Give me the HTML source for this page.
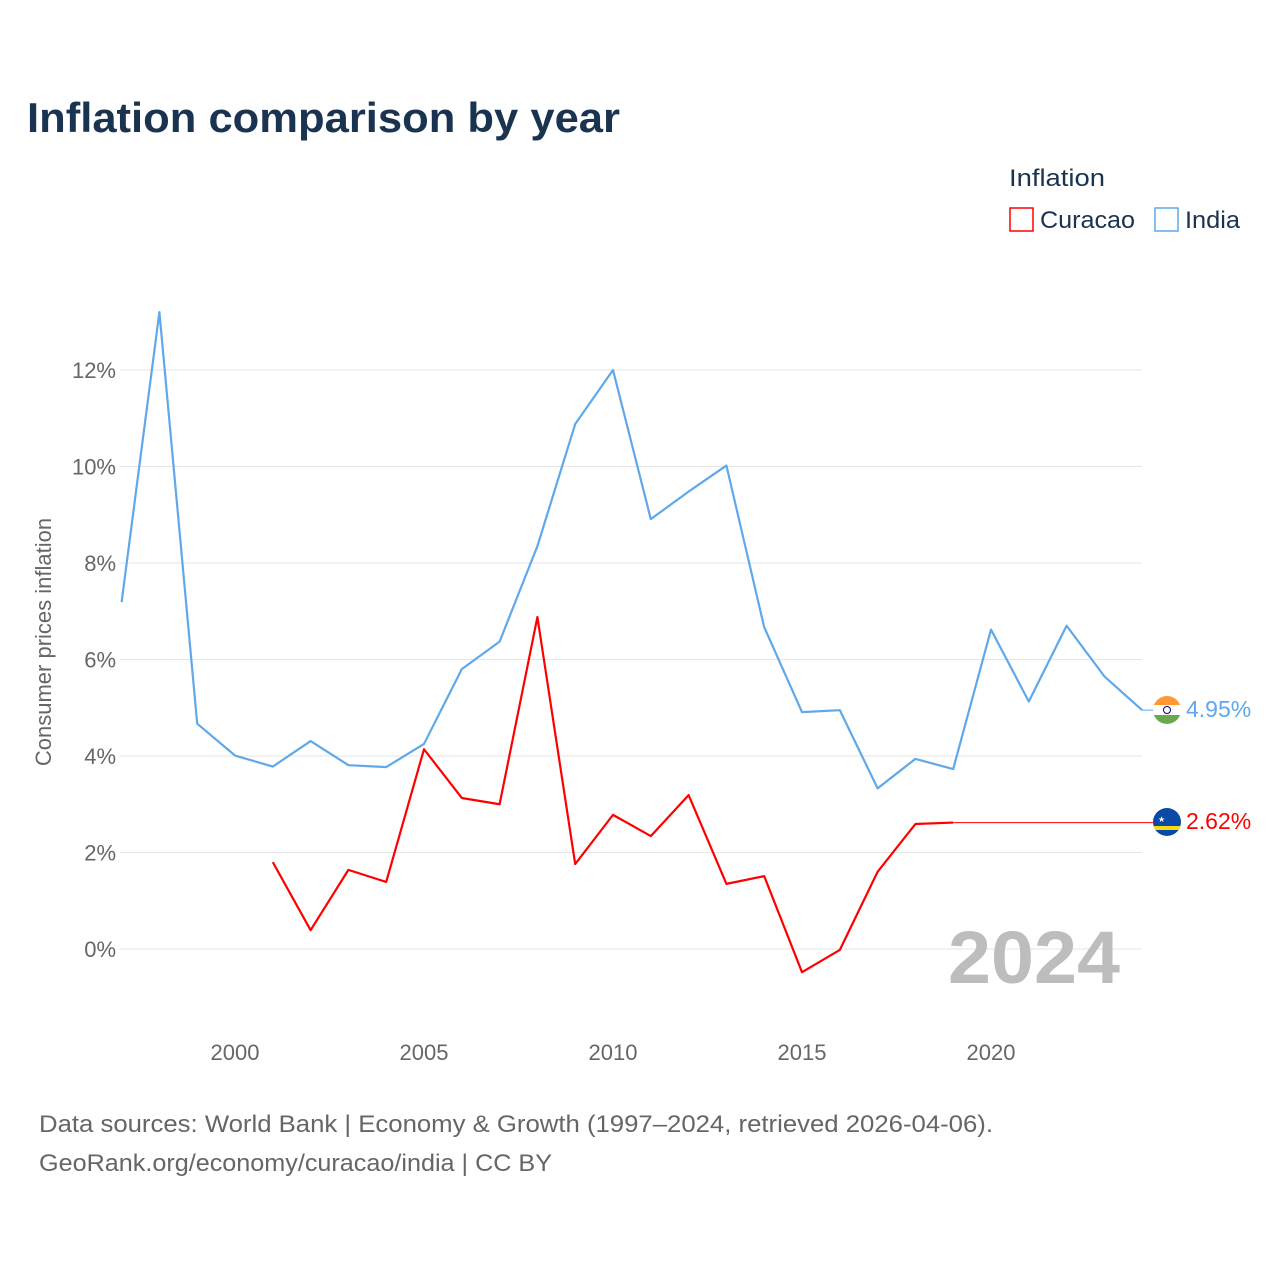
<!DOCTYPE html>
<html><head><meta charset="utf-8">
<style>
body{margin:0;background:#fff;font-family:"Liberation Sans",sans-serif;}
svg text{font-family:"Liberation Sans",sans-serif;}
</style></head>
<body>
<svg width="1280" height="1280" viewBox="0 0 1280 1280">
<text x="27" y="132" font-size="42" font-weight="bold" fill="#1a3350" textLength="593" lengthAdjust="spacingAndGlyphs">Inflation comparison by year</text>
<text x="1009" y="186" font-size="24" fill="#1a3350" textLength="96" lengthAdjust="spacingAndGlyphs">Inflation</text>
<g><rect x="1010" y="208" width="23" height="23" fill="none" stroke="#ff0000" stroke-width="1.5"/><text x="1040" y="228" font-size="24" fill="#1a3350" textLength="95" lengthAdjust="spacingAndGlyphs">Curacao</text></g>
<g><rect x="1155" y="208" width="23" height="23" fill="none" stroke="#5fa8ea" stroke-width="1.5"/><text x="1185" y="228" font-size="24" fill="#1a3350" textLength="55" lengthAdjust="spacingAndGlyphs">India</text></g>
<g id="grid"></g><g id="yticks"></g><g id="xticks"></g>
<text transform="translate(51,642) rotate(-90)" text-anchor="middle" font-size="22" fill="#666">Consumer prices inflation</text>
<text x="948" y="983" font-size="74" font-weight="bold" fill="#bdbdbd" textLength="172" lengthAdjust="spacingAndGlyphs">2024</text>
<g id="lines"></g>
<g>
<clipPath id="c1"><circle cx="1167" cy="710" r="14"/></clipPath>
<g clip-path="url(#c1)"><rect x="1150" y="694" width="34" height="11" fill="#ff9933"/><rect x="1150" y="705" width="34" height="10" fill="#fff"/><rect x="1150" y="715" width="34" height="12" fill="#6aa84f"/><circle cx="1167" cy="710" r="3.5" fill="none" stroke="#000080" stroke-width="1"/></g></g>
<text x="1186" y="717" font-size="23" fill="#5fa8ea">4.95%</text>
<g>
<clipPath id="c2"><circle cx="1167" cy="822" r="14"/></clipPath>
<g clip-path="url(#c2)"><rect x="1150" y="806" width="34" height="32" fill="#0a4aa6"/><rect x="1150" y="826" width="34" height="4" fill="#f9d90f"/><text x="1158" y="822" font-size="8" fill="#fff">★</text></g></g>
<text x="1186" y="829" font-size="23" fill="#ff0000">2.62%</text>
<text x="39" y="1132" font-size="24" fill="#666" textLength="954" lengthAdjust="spacingAndGlyphs">Data sources: World Bank | Economy &amp; Growth (1997–2024, retrieved 2026-04-06).</text>
<text x="39" y="1171" font-size="24" fill="#666" textLength="513" lengthAdjust="spacingAndGlyphs">GeoRank.org/economy/curacao/india | CC BY</text>
</svg>
<script>
const years=[1997,1998,1999,2000,2001,2002,2003,2004,2005,2006,2007,2008,2009,2010,2011,2012,2013,2014,2015,2016,2017,2018,2019,2020,2021,2022,2023,2024];
const india=[7.19,13.2,4.67,4.01,3.78,4.31,3.81,3.77,4.25,5.80,6.37,8.35,10.88,12.0,8.91,9.48,10.02,6.67,4.91,4.95,3.33,3.94,3.73,6.62,5.13,6.70,5.65,4.95];
const curacaoYears=[2001,2002,2003,2004,2005,2006,2007,2008,2009,2010,2011,2012,2013,2014,2015,2016,2017,2018,2019];
const curacao=[1.8,0.39,1.64,1.39,4.14,3.13,3.0,6.88,1.76,2.78,2.34,3.19,1.35,1.51,-0.48,-0.02,1.6,2.59,2.62];
const yTicks=[0,2,4,6,8,10,12];
const xTicks=[2000,2005,2010,2015,2020];
const NS="http://www.w3.org/2000/svg";
const X=y=>121.6+(y-1997)*37.8;
const Y=v=>949-v*48.25;
function mk(tag,attrs,parent){const e=document.createElementNS(NS,tag);for(const k in attrs)e.setAttribute(k,attrs[k]);document.getElementById(parent).appendChild(e);return e;}
yTicks.forEach(t=>{
 const l=mk('line',{x1:120,x2:1142,y1:Y(t),y2:Y(t),stroke:'#e6e6e6','stroke-width':1},'grid');
 
 
 const tx=mk('text',{x:116,y:Y(t)+8,'text-anchor':'end','font-size':22,fill:'#666'},'yticks');
 tx.textContent=t+'%';
 
 
});
xTicks.forEach(t=>{
 const tx=mk('text',{x:X(t),y:1060,'text-anchor':'middle','font-size':22,fill:'#666'},'xticks');
 tx.textContent=t;
 
 
});
const ip=mk('polyline',{points:years.map((y,i)=>X(y)+','+Y(india[i])).join(' '),fill:'none',stroke:'#5fa8ea','stroke-width':2.2,'stroke-linejoin':'round'},'lines');


const cp=mk('polyline',{points:curacaoYears.map((y,i)=>X(y)+','+Y(curacao[i])).join(' '),fill:'none',stroke:'#ff0000','stroke-width':2.2,'stroke-linejoin':'round'},'lines');


const lastC=curacao[curacao.length-1];
const ext=mk('line',{x1:X(curacaoYears[curacaoYears.length-1]),x2:1153,y1:Y(lastC),y2:Y(lastC),stroke:'#ff0000','stroke-width':1},'lines');


const iext=mk('line',{x1:X(2024),x2:1153,y1:Y(india[india.length-1]),y2:Y(india[india.length-1]),stroke:'#5fa8ea','stroke-width':1},'lines');


</script>
</body></html>
